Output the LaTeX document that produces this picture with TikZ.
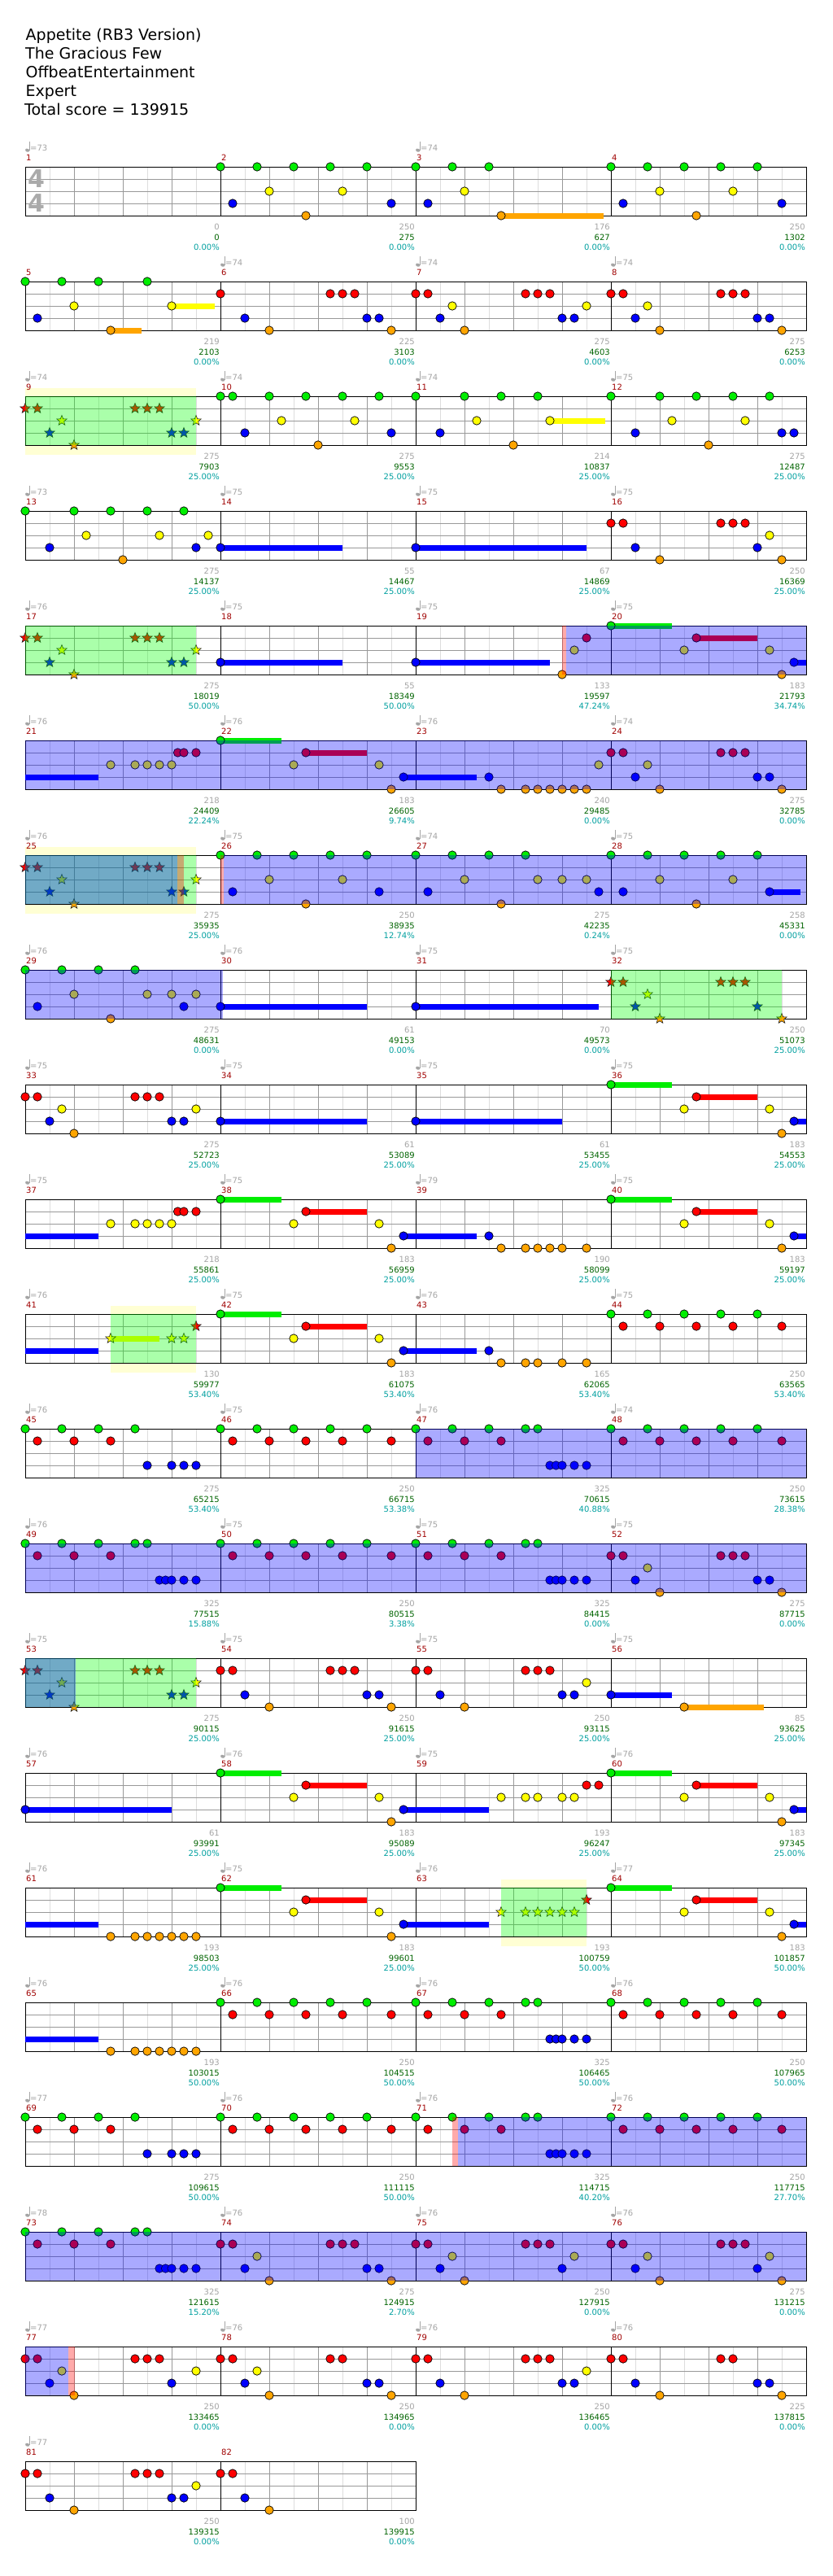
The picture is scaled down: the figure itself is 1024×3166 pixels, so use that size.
\documentclass[tikz,border=0pt]{standalone}
\usepackage{fontspec}
\setmainfont{DejaVu Sans}
\usetikzlibrary{shapes.geometric}
\definecolor{ln0}{RGB}{0,238,0}
\definecolor{ln1}{RGB}{255,0,0}
\definecolor{ln2}{RGB}{255,255,0}
\definecolor{ln3}{RGB}{0,0,255}
\definecolor{ln4}{RGB}{255,165,0}
\definecolor{ovg}{RGB}{0,255,0}
\definecolor{ovr}{RGB}{255,0,0}
\definecolor{mnumc}{RGB}{160,0,0}
\definecolor{tempoc}{RGB}{165,165,165}
\definecolor{gnum}{RGB}{165,165,165}
\definecolor{scorec}{RGB}{0,100,0}
\definecolor{pctc}{RGB}{0,160,160}
\definecolor{bandc}{RGB}{255,255,212}
\definecolor{lightg}{RGB}{221,221,221}
\definecolor{midg}{RGB}{153,153,153}
\definecolor{tsig}{RGB}{170,170,170}

\newcommand\meas[1]{%
 \pgfmathtruncatemacro\rr{(#1-1)/4}%
 \pgfmathtruncatemacro\cc{#1-1-4*\rr}%
 \pgfmathsetmacro\mx{31+240*\cc}%
 \pgfmathsetmacro\my{205+141*\rr}}
\newcommand\nts[2]{\meas{#1}\edef\tmplist{#2}%
 \foreach \qp/\ql in \tmplist {\draw[notec,fill=ln\ql] ({\mx+15*\qp},{\my+15*\ql}) circle (5.2pt);}}
\newcommand\strs[2]{\meas{#1}\edef\tmplist{#2}%
 \foreach \qp/\ql in \tmplist {\node[starn,fill=ln\ql] at ({\mx+15*\qp},{\my+15*\ql}) {};}}
\newcommand\susb[4]{\meas{#1}\draw[line width=7pt,ln#4] ({\mx+15*#2},{\my+15*#4}) -- ({\mx+15*#3},{\my+15*#4});}
\newcommand\pfs[1]{\susb{#1}{0}{5}{0}\susb{#1}{7}{12}{1}\susb{#1}{15}{16}{3}}
\newcommand\ovl[4]{\fill[#1,opacity=0.3333] (#3,{205+141*#2}) rectangle (#4,{265+141*#2});}
\newcommand\band[3]{\fill[bandc] (#2,{195+141*#1}) rectangle (#3,{277+141*#1});}
\newcommand\staff[2]{%
 \pgfmathsetmacro\ty{205+141*#1}%
 \pgfmathsetmacro\xe{31+240*#2}%
 \pgfmathtruncatemacro\nk{8*#2-1}%
 \pgfmathtruncatemacro\nb{4*#2-1}%
 \pgfmathtruncatemacro\nm{#2-1}%
 \fill[white] (31,\ty) rectangle (\xe,{\ty+60});
 \foreach \k in {1,...,\nk} {\draw[lightg,line width=0.8pt] ({31+30*\k},\ty) -- ({31+30*\k},{\ty+60});}
 \foreach \k in {1,...,\nb} {\draw[midg,line width=0.8pt] ({31+60*\k},\ty) -- ({31+60*\k},{\ty+60});}
 \foreach \k in {1,2,3} {\draw[midg,line width=0.8pt] (31,{\ty+15*\k}) -- (\xe,{\ty+15*\k});}
 \foreach \k in {1,...,\nm} {\draw[black,line width=0.9pt] ({31+240*\k},\ty) -- ({31+240*\k},{\ty+60});}
 \draw[black,line width=0.9pt] (31,\ty) rectangle (\xe,{\ty+60});}

\def\PA{0/0,3/0,6/0,9/0,12/0,4/2,10/2,1/3,14/3,7/4}
\def\PB{0/0,3/0,6/0,9/0,12/0,1/1,4/1,7/1,10/1,14/1}
\def\PC{0/0,3/0,6/0,9/0,10/0,1/1,4/1,7/1,11/3,11.5/3,12/3,13/3,14/3}
\def\PD{0/1,1/1,9/1,10/1,11/1,3/2,14/2,2/3,12/3,13/3,4/4}
\def\PE{0/1,1/1,9/1,10/1,11/1,3/2,2/3,12/3,13/3,4/4,14/4}
\def\PF{0/0,7/1,6/2,13/2,15/3,14/4}

\begin{document}
\begin{tikzpicture}[x=1pt,y=-1pt,
 notec/.style={draw=black,line width=0.7pt},
 starn/.style={star,star points=5,star point ratio=2.3,minimum size=13pt,inner sep=0pt,draw=black!85,line width=0.6pt},
 lbl/.style={font=\fontsize{10}{12}\selectfont,inner sep=0pt},
 ttl/.style={font=\fontsize{19}{23}\selectfont,inner sep=0pt,anchor=base west}]
\useasboundingbox (0,0) rectangle (1024,3166);
\fill[white] (0,0) rectangle (1024,3166);

% title
\node[ttl] (t1) at (31.5,49.3) {Appetite (RB3 Version)};
\node[ttl] (t2) at (31,72.3) {The Gracious Few};
\node[ttl] (t3) at (31.5,95.3) {OffbeatEntertainment};
\node[ttl] (t4) at (31.5,118.3) {Expert};
\node[ttl] (t5) at (30,141.3) {Total score = 139915};

% star bands
\band{2}{31}{241}
\band{6}{31}{241}
\band{10}{136}{241}
\band{15}{616}{721}

% staffs
\foreach \r in {0,...,19} {\staff{\r}{4}}
\staff{20}{2}

% time signature
\node[font=\fontsize{30}{30}\selectfont\bfseries,text=tsig,inner sep=0pt] (ts1) at (44.5,220) {4};
\node[font=\fontsize{30}{30}\selectfont\bfseries,text=tsig,inner sep=0pt] (ts2) at (44.5,250) {4};

% sustains
\susb{3}{7}{15.4}{4}
\susb{5}{12}{15.5}{2}
\susb{5}{7}{9.5}{4}
\susb{11}{11}{15.5}{2}
\susb{14}{0}{10}{3}
\susb{15}{0}{14}{3}
\susb{18}{0}{10}{3}
\susb{19}{0}{11}{3}
\pfs{20}
\susb{21}{0}{6}{3}
\pfs{22}
\susb{23}{0}{5}{3}
\susb{28}{13}{15.5}{3}
\susb{30}{0}{12}{3}
\susb{31}{0}{15}{3}
\susb{34}{0}{12}{3}
\susb{35}{0}{12}{3}
\pfs{36}
\susb{37}{0}{6}{3}
\pfs{38}
\susb{39}{0}{5}{3}
\pfs{40}
\susb{41}{0}{6}{3}
\susb{41}{7}{11}{2}
\pfs{42}
\susb{43}{0}{5}{3}
\susb{56}{0}{5}{3}
\susb{56}{6}{12.5}{4}
\susb{57}{0}{12}{3}
\pfs{58}
\susb{59}{0}{6}{3}
\pfs{60}
\susb{61}{0}{6}{3}
\pfs{62}
\susb{63}{0}{6}{3}
\pfs{64}
\susb{65}{0}{6}{3}

% notes
\nts{2}{\PA}
\nts{3}{0/0,3/0,6/0,4/2,1/3,7/4}
\nts{4}{\PA}
\nts{5}{0/0,3/0,6/0,10/0,4/2,12/2,1/3,7/4}
\nts{6}{0/1,9/1,10/1,11/1,2/3,12/3,13/3,4/4,14/4}
\nts{7}{\PD}
\nts{8}{\PE}
\strs{9}{\PD}
\nts{10}{0/0,1/0,4/0,7/0,10/0,13/0,5/2,11/2,2/3,14/3,8/4}
\nts{11}{0/0,4/0,7/0,10/0,5/2,11/2,2/3,8/4}
\nts{12}{0/0,4/0,7/0,10/0,13/0,5/2,11/2,2/3,14/3,15/3,8/4}
\nts{13}{0/0,4/0,7/0,10/0,13/0,5/2,11/2,15/2,2/3,14/3,8/4}
\nts{14}{0/3}
\nts{15}{0/3}
\nts{16}{0/1,1/1,9/1,10/1,11/1,13/2,2/3,12/3,4/4,14/4}
\strs{17}{\PD}
\nts{18}{0/3}
\nts{19}{0/3,12/4,13/2,14/1}
\nts{20}{\PF}
\nts{21}{7/2,9/2,10/2,11/2,12/2,12.5/1,13/1,14/1}
\nts{22}{\PF}
\nts{23}{6/3,7/4,9/4,10/4,11/4,12/4,13/4,14/4,15/2}
\nts{24}{\PE}
\strs{25}{\PD}
\nts{26}{0/0,3/0,6/0,9/0,12/0,4/2,10/2,1/3,13/3,7/4}
\nts{27}{0/0,3/0,6/0,9/0,4/2,10/2,12/2,14/2,1/3,15/3,7/4}
\nts{28}{0/0,3/0,6/0,9/0,12/0,4/2,10/2,1/3,13/3,7/4}
\nts{29}{0/0,3/0,6/0,9/0,4/2,10/2,12/2,14/2,1/3,13/3,7/4}
\nts{30}{0/3}
\nts{31}{0/3}
\strs{32}{0/1,1/1,9/1,10/1,11/1,3/2,2/3,12/3,4/4,14/4}
\nts{33}{\PD}
\nts{34}{0/3}
\nts{35}{0/3}
\nts{36}{\PF}
\nts{37}{7/2,9/2,10/2,11/2,12/2,12.5/1,13/1,14/1}
\nts{38}{\PF}
\nts{39}{6/3,7/4,9/4,10/4,11/4,12/4,14/4}
\nts{40}{\PF}
\strs{41}{7/2,12/2,13/2,14/1}
\nts{42}{\PF}
\nts{43}{6/3,7/4,9/4,10/4,12/4,14/4}
\nts{44}{\PB}
\nts{45}{0/0,3/0,6/0,9/0,1/1,4/1,7/1,10/3,12/3,13/3,14/3}
\nts{46}{\PB}
\nts{47}{\PC}
\nts{48}{\PB}
\nts{49}{\PC}
\nts{50}{\PB}
\nts{51}{\PC}
\nts{52}{\PE}
\strs{53}{\PD}
\nts{54}{0/1,1/1,9/1,10/1,11/1,2/3,12/3,13/3,4/4,14/4}
\nts{55}{0/1,1/1,9/1,10/1,11/1,14/2,2/3,12/3,13/3,4/4}
\nts{56}{0/3,6/4}
\nts{57}{0/3}
\nts{58}{\PF}
\nts{59}{7/2,9/2,10/2,12/2,13/2,14/1,15/1}
\nts{60}{\PF}
\nts{61}{7/4,9/4,10/4,11/4,12/4,13/4,14/4}
\nts{62}{\PF}
\strs{63}{7/2,9/2,10/2,11/2,12/2,13/2,14/1}
\nts{64}{\PF}
\nts{65}{7/4,9/4,10/4,11/4,12/4,13/4,14/4}
\nts{66}{\PB}
\nts{67}{\PC}
\nts{68}{\PB}
\nts{69}{0/0,3/0,6/0,9/0,1/1,4/1,7/1,10/3,12/3,13/3,14/3}
\nts{70}{\PB}
\nts{71}{\PC}
\nts{72}{\PB}
\nts{73}{\PC}
\nts{74}{\PE}
\nts{75}{0/1,1/1,9/1,10/1,11/1,3/2,13/2,2/3,12/3,4/4}
\nts{76}{0/1,1/1,9/1,10/1,11/1,3/2,13/2,2/3,12/3,4/4,14/4}
\nts{77}{0/1,1/1,9/1,10/1,11/1,3/2,14/2,2/3,12/3,4/4}
\nts{78}{0/1,1/1,9/1,10/1,3/2,2/3,12/3,13/3,4/4,14/4}
\nts{79}{0/1,1/1,9/1,10/1,11/1,14/2,2/3,12/3,13/3,4/4}
\nts{80}{0/1,1/1,9/1,10/1,2/3,12/3,13/3,4/4,14/4}
\nts{81}{0/1,1/1,9/1,10/1,11/1,14/2,2/3,12/3,13/3,4/4}
\nts{82}{0/1,1/1,2/3,4/4}

% overlays
\ovl{ovg}{2}{31}{241}
\ovl{ovg}{4}{31}{241}
\ovl{ovr}{4}{691}{696}
\ovl{ln3}{4}{696}{991}
\ovl{ln3}{5}{31}{991}
\ovl{ovg}{6}{31}{241}
\ovl{ln3}{6}{31}{218}
\ovl{ovr}{6}{218}{226}
\ovl{ovr}{6}{271}{275}
\ovl{ln3}{6}{275}{991}
\ovl{ln3}{7}{31}{274}
\ovl{ovg}{7}{751}{961}
\ovl{ovg}{10}{136}{241}
\ovl{ln3}{11}{511}{991}
\ovl{ln3}{12}{31}{991}
\ovl{ovg}{13}{31}{241}
\ovl{ln3}{13}{31}{93}
\ovl{ovg}{15}{616}{721}
\ovl{ovr}{17}{556}{563}
\ovl{ln3}{17}{563}{991}
\ovl{ln3}{18}{31}{991}
\ovl{ln3}{19}{31}{84}
\ovl{ovr}{19}{84}{91.5}

% measure numbers
\foreach \m in {1,...,82} {\meas{\m}\node[lbl,text=mnumc,anchor=base west] (n\m) at ({\mx+1},{\my-7.3}) {\m};}

% tempos
\foreach \m/\vt in {1/73,3/74,6/74,7/74,8/74,9/74,10/74,11/74,12/75,13/73,14/75,15/75,16/75,17/76,18/75,19/75,20/75,21/76,22/76,23/76,24/74,25/76,26/75,27/74,28/75,29/76,30/76,31/75,32/75,33/75,34/75,35/75,36/75,37/75,38/75,39/79,40/75,41/76,42/75,43/76,44/75,45/76,46/75,47/76,48/74,49/76,50/75,51/75,52/75,53/75,54/75,55/75,56/75,57/76,58/76,59/75,60/76,61/76,62/75,63/76,64/77,65/76,66/76,67/76,68/76,69/77,70/76,71/76,72/76,73/78,74/76,75/76,76/76,77/77,78/76,79/76,80/76,81/77} {
 \meas{\m}
 \fill[tempoc,rotate around={-20:({\mx+2.7},{\my-20.3})}] ({\mx+2.7},{\my-20.3}) ellipse (2.7pt and 2pt);
 \draw[tempoc,line width=0.8pt] ({\mx+5},{\my-20.5}) -- ({\mx+5},{\my-31});
 \node[lbl,text=tempoc,anchor=base west] (tm\m) at ({\mx+6},{\my-20}) {=\vt};
}

% score labels
\foreach \m/\va/\vb/\vc in {1/0/0/0.00,2/250/275/0.00,3/176/627/0.00,4/250/1302/0.00,5/219/2103/0.00,6/225/3103/0.00,7/275/4603/0.00,8/275/6253/0.00,9/275/7903/25.00,10/275/9553/25.00,11/214/10837/25.00,12/275/12487/25.00,13/275/14137/25.00,14/55/14467/25.00,15/67/14869/25.00,16/250/16369/25.00,17/275/18019/50.00,18/55/18349/50.00,19/133/19597/47.24,20/183/21793/34.74,21/218/24409/22.24,22/183/26605/9.74,23/240/29485/0.00,24/275/32785/0.00,25/275/35935/25.00,26/250/38935/12.74,27/275/42235/0.24,28/258/45331/0.00,29/275/48631/0.00,30/61/49153/0.00,31/70/49573/0.00,32/250/51073/25.00,33/275/52723/25.00,34/61/53089/25.00,35/61/53455/25.00,36/183/54553/25.00,37/218/55861/25.00,38/183/56959/25.00,39/190/58099/25.00,40/183/59197/25.00,41/130/59977/53.40,42/183/61075/53.40,43/165/62065/53.40,44/250/63565/53.40,45/275/65215/53.40,46/250/66715/53.38,47/325/70615/40.88,48/250/73615/28.38,49/325/77515/15.88,50/250/80515/3.38,51/325/84415/0.00,52/275/87715/0.00,53/275/90115/25.00,54/250/91615/25.00,55/250/93115/25.00,56/85/93625/25.00,57/61/93991/25.00,58/183/95089/25.00,59/193/96247/25.00,60/183/97345/25.00,61/193/98503/25.00,62/183/99601/25.00,63/193/100759/50.00,64/183/101857/50.00,65/193/103015/50.00,66/250/104515/50.00,67/325/106465/50.00,68/250/107965/50.00,69/275/109615/50.00,70/250/111115/50.00,71/325/114715/40.20,72/250/117715/27.70,73/325/121615/15.20,74/275/124915/2.70,75/250/127915/0.00,76/275/131215/0.00,77/250/133465/0.00,78/250/134965/0.00,79/250/136465/0.00,80/225/137815/0.00,81/250/139315/0.00,82/100/139915/0.00} {
 \meas{\m}
 \node[lbl,text=gnum,anchor=base east] (g\m) at ({\mx+239},{\my+77}) {\va};
 \node[lbl,text=scorec,anchor=base east] (s\m) at ({\mx+239},{\my+90}) {\vb};
 \node[lbl,text=pctc,anchor=base east] (p\m) at ({\mx+239},{\my+102.5}) {\vc\%};
}
\end{tikzpicture}
\end{document}
